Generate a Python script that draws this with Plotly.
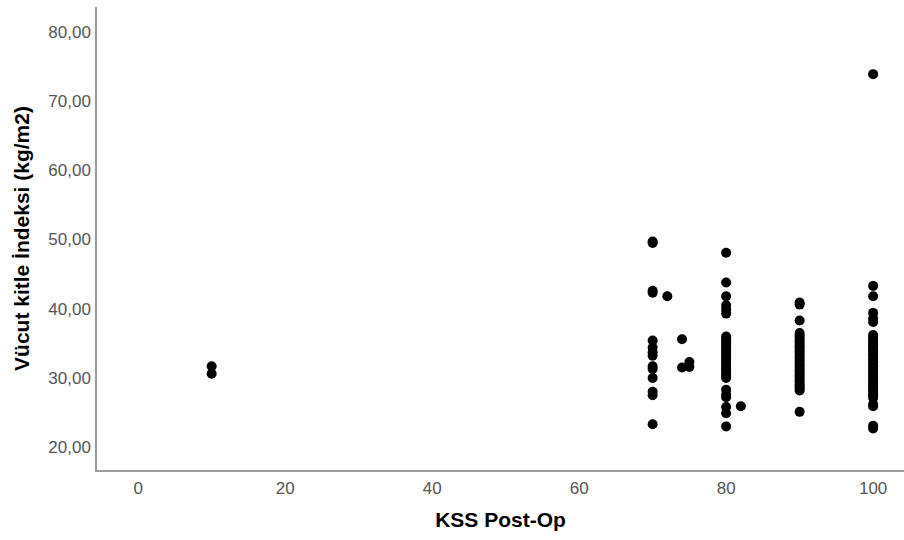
import plotly.graph_objects as go

# KSS Post-Op values (x) and BMI values grouped by KSS score
kss_groups = [10, 70, 72, 74, 75, 80, 82, 90, 100]

bmi_10 = [31.7, 30.6]
bmi_70 = [49.7, 49.5, 42.6, 42.3, 35.4, 34.4, 33.7, 33.2, 31.7, 31.3, 30.0, 28.0, 27.5, 23.3]
bmi_72 = [41.8]
bmi_74 = [35.6, 31.5]
bmi_75 = [32.3, 31.6]
bmi_80 = [48.1, 43.8, 41.8, 40.5, 39.9, 39.3,
          36.0, 35.7, 35.4, 35.0, 34.7, 34.3, 34.0, 33.6, 33.3, 33.0,
          32.6, 32.3, 32.0, 31.6, 31.3, 31.0, 30.6, 30.3, 30.0,
          28.3, 27.6, 27.2, 25.8, 24.9, 23.0]
bmi_82 = [25.9]
bmi_90 = [40.9, 40.6, 38.3,
          36.5, 36.1, 35.8, 35.4, 35.1, 34.7, 34.4, 34.0, 33.7, 33.3, 33.0,
          32.6, 32.3, 31.9, 31.6, 31.2, 30.9, 30.5, 30.2, 29.8, 29.5, 29.1,
          28.8, 28.5, 28.2, 25.1]
bmi_100 = [73.9, 43.3, 41.8, 39.4, 38.6, 38.1,
           36.2, 35.9, 35.5, 35.2, 34.8, 34.5, 34.1, 33.8, 33.4, 33.1,
           32.7, 32.4, 32.0, 31.7, 31.3, 31.0, 30.6, 30.3, 29.9, 29.6,
           29.2, 28.9, 28.5, 28.2, 27.8, 27.5, 27.1, 26.2, 25.9, 23.1, 22.7]

bmi_groups = [bmi_10, bmi_70, bmi_72, bmi_74, bmi_75, bmi_80, bmi_82, bmi_90, bmi_100]

x_ticks = [0, 20, 40, 60, 80, 100]
y_ticks = [20, 30, 40, 50, 60, 70, 80]

xs, ys = [], []
for k, vals in zip(kss_groups, bmi_groups):
    xs.extend([k] * len(vals))
    ys.extend(vals)

fig = go.Figure(go.Scatter(
    x=xs, y=ys, mode="markers",
    marker=dict(color="black", size=10, line=dict(width=0)),
    showlegend=False,
))

font_family = "Liberation Sans, Arial, sans-serif"

fig.update_layout(
    width=904, height=540,
    margin=dict(l=97, r=0, t=7, b=70),
    paper_bgcolor="white", plot_bgcolor="white",
    separators=",.",
    font=dict(family=font_family, size=17, color="#555555"),
)
fig.update_xaxes(
    range=[-5.6, 104.2], tickvals=x_ticks, ticks="",
    showgrid=False, zeroline=False, automargin=False,
    showline=True, linecolor="#9a9a9a", linewidth=1.5,
    ticklabelstandoff=2,
    tickfont=dict(size=17, color="#555555"),
    title=dict(text="<b>KSS Post-Op</b>", font=dict(size=21, color="black"), standoff=15),
)
fig.update_yaxes(
    range=[16.7, 83.6], tickvals=y_ticks, tickformat=".2f", ticks="",
    showgrid=False, zeroline=False, automargin=False,
    showline=True, linecolor="#9a9a9a", linewidth=1.5,
    ticklabelstandoff=1,
    tickfont=dict(size=17, color="#555555"),
    title=dict(text="<b>Vücut kitle İndeksi (kg/m2)</b>", font=dict(size=21, color="black"), standoff=13),
)

fig.write_html("out.html", config={"displayModeBar": False},
               post_script="document.body.style.margin='0';")
